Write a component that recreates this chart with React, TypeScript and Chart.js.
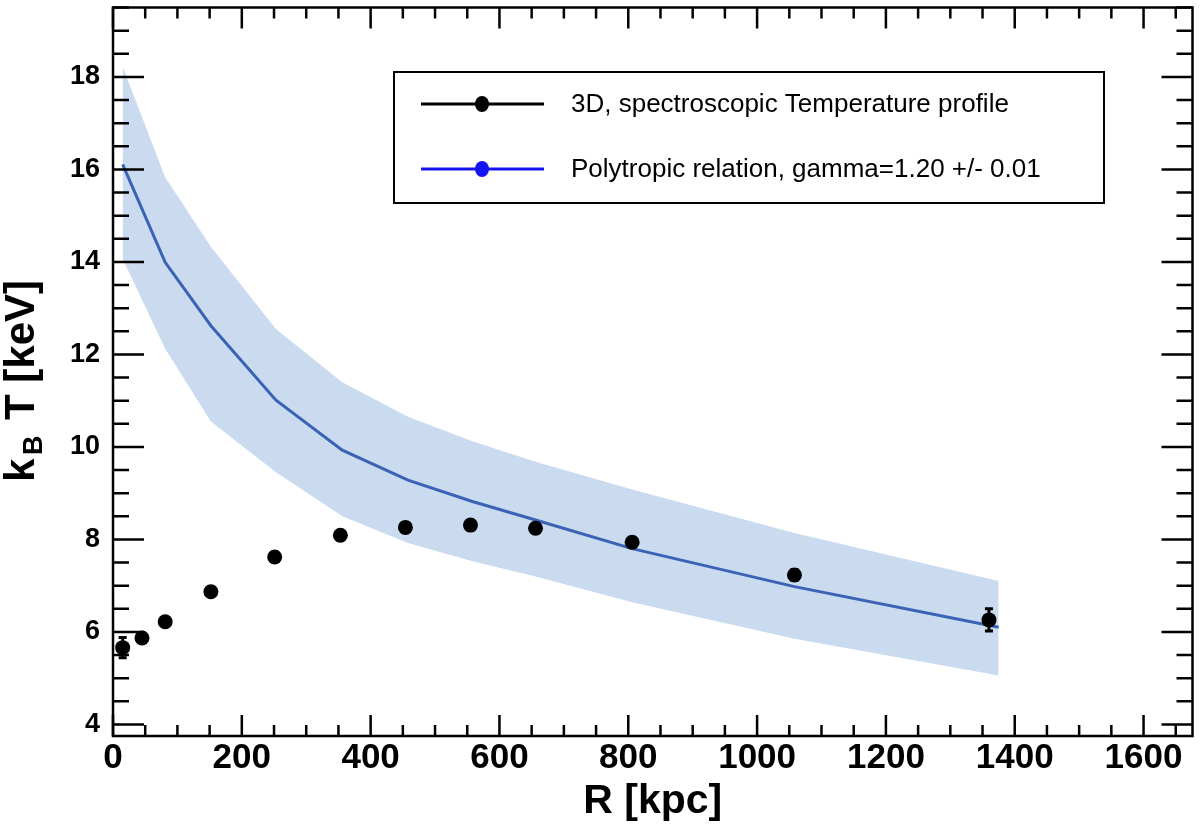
import React, { useEffect, useRef } from "react";
import { Chart, registerables } from "chart.js";

Chart.register(...registerables);

// ---- data ----
const radiusKpc = [15, 45, 81, 152, 251, 353, 454, 555, 656, 806, 1058, 1360];
const tempKeV = [5.66, 5.87, 6.22, 6.87, 7.62, 8.09, 8.26, 8.31, 8.24, 7.94, 7.23, 6.26];
const tempErr = [0.22, 0.1, 0.1, 0.1, 0.1, 0.1, 0.1, 0.1, 0.1, 0.1, 0.12, 0.24];

const modelR = [15, 81, 152, 253, 356, 458, 558, 656, 806, 1058, 1375];
const modelT = [16.11, 13.99, 12.62, 11.01, 9.93, 9.28, 8.82, 8.42, 7.8, 6.98, 6.1];
const bandUpper = [18.22, 15.83, 14.33, 12.55, 11.4, 10.65, 10.12, 9.68, 9.08, 8.14, 7.1];
const bandLower = [14.06, 12.12, 10.55, 9.45, 8.5, 7.92, 7.53, 7.2, 6.64, 5.85, 5.06];

const xTicks = [0, 200, 400, 600, 800, 1000, 1200, 1400, 1600];
const yTicks = [4, 6, 8, 10, 12, 14, 16, 18];

const dataLabel = "3D, spectroscopic Temperature profile";
const modelLabel = "Polytropic relation, gamma=1.20 +/- 0.01";

const FONT = '"Liberation Sans", Arial, Helvetica, sans-serif';

export default function App() {
  const ref = useRef<HTMLCanvasElement>(null);

  useEffect(() => {
    document.body.style.margin = "0";
    const canvas = ref.current!;

    const decor = {
      id: "decor",
      afterDatasetsDraw(chart: any) {
        const ctx = chart.ctx;
        const xs = chart.scales.x;
        const ys = chart.scales.y;
        ctx.save();
        ctx.strokeStyle = "#000";
        ctx.lineWidth = 3;
        radiusKpc.forEach((r, i) => {
          const px = xs.getPixelForValue(r);
          const top = ys.getPixelForValue(tempKeV[i] + tempErr[i]);
          const bot = ys.getPixelForValue(tempKeV[i] - tempErr[i]);
          ctx.beginPath();
          ctx.moveTo(px, top);
          ctx.lineTo(px, bot);
          ctx.moveTo(px - 4, top);
          ctx.lineTo(px + 4, top);
          ctx.moveTo(px - 4, bot);
          ctx.lineTo(px + 4, bot);
          ctx.stroke();
        });
        ctx.restore();
      },
      afterDraw(chart: any) {
        const ctx = chart.ctx;
        const a = chart.chartArea;
        const xs = chart.scales.x;
        const ys = chart.scales.y;
        ctx.save();
        ctx.strokeStyle = "#000";
        ctx.lineWidth = 2.5;
        ctx.strokeRect(a.left, a.top, a.right - a.left, a.bottom - a.top);

        // x ticks (bottom and top), inward
        ctx.beginPath();
        for (let v = 0; v <= xs.max; v += 50) {
          const px = xs.getPixelForValue(v);
          const major = v % 200 === 0;
          const len = major ? 21 : 11;
          ctx.moveTo(px, a.bottom);
          ctx.lineTo(px, a.bottom - len);
          ctx.moveTo(px, a.top);
          ctx.lineTo(px, a.top + len);
        }
        // y ticks (left and right), inward
        for (let v = 4; v <= ys.max; v += 0.5) {
          const py = ys.getPixelForValue(v);
          const major = Math.abs(v % 2) < 1e-9;
          const len = major ? 31 : 16;
          ctx.moveTo(a.left, py);
          ctx.lineTo(a.left + len, py);
          ctx.moveTo(a.right, py);
          ctx.lineTo(a.right - len, py);
        }
        ctx.stroke();

        // legend
        const lx0 = 394, ly0 = 72, lx1 = 1104, ly1 = 203;
        ctx.fillStyle = "#fff";
        ctx.fillRect(lx0, ly0, lx1 - lx0, ly1 - ly0);
        ctx.lineWidth = 2;
        ctx.strokeRect(lx0, ly0, lx1 - lx0, ly1 - ly0);
        const entries = [
          { y: 104, color: "#000", text: dataLabel },
          { y: 169, color: "#1414f0", text: modelLabel },
        ];
        entries.forEach((e) => {
          ctx.strokeStyle = e.color;
          ctx.fillStyle = e.color;
          ctx.lineWidth = 3;
          ctx.beginPath();
          ctx.moveTo(421, e.y);
          ctx.lineTo(544, e.y);
          ctx.stroke();
          ctx.beginPath();
          ctx.ellipse(482, e.y, 7, 8, 0, 0, Math.PI * 2);
          ctx.fill();
          ctx.fillStyle = "#000";
          ctx.font = `26px ${FONT}`;
          ctx.textAlign = "left";
          ctx.textBaseline = "middle";
          ctx.fillText(e.text, 571, e.y + 1);
        });

        // x title
        ctx.fillStyle = "#000";
        ctx.font = `bold 41px ${FONT}`;
        ctx.textAlign = "center";
        ctx.textBaseline = "alphabetic";
        ctx.fillText("R [kpc]", (a.left + a.right) / 2, 813);

        // y title with subscript
        ctx.save();
        ctx.translate(34, 482);
        ctx.rotate(-Math.PI / 2);
        ctx.textAlign = "left";
        ctx.textBaseline = "alphabetic";
        ctx.font = `bold 42px ${FONT}`;
        ctx.fillText("k", 0, 0);
        ctx.font = `bold 27px ${FONT}`;
        ctx.fillText("B", 27, 8);
        ctx.font = `bold 42px ${FONT}`;
        ctx.fillText("T [keV]", 62, 0);
        ctx.restore();

        ctx.restore();
      },
    };

    const chart = new Chart(canvas, {
      type: "scatter",
      data: {
        datasets: [
          {
            label: dataLabel,
            data: radiusKpc.map((r, i) => ({ x: r, y: tempKeV[i] })),
            showLine: false,
            pointRadius: 7.5,
            pointBorderWidth: 0,
            backgroundColor: "#000",
            borderColor: "#000",
            order: 0,
          },
          {
            label: modelLabel,
            data: modelR.map((r, i) => ({ x: r, y: modelT[i] })),
            showLine: true,
            borderColor: "#3a62b5",
            borderWidth: 3,
            pointRadius: 0,
            fill: false,
            order: 1,
          },
          {
            label: "upper",
            data: modelR.map((r, i) => ({ x: r, y: bandUpper[i] })),
            showLine: true,
            borderColor: "rgba(0,0,0,0)",
            borderWidth: 0,
            pointRadius: 0,
            backgroundColor: "#cbdbef",
            fill: "+1",
            order: 2,
          },
          {
            label: "lower",
            data: modelR.map((r, i) => ({ x: r, y: bandLower[i] })),
            showLine: true,
            borderColor: "rgba(0,0,0,0)",
            borderWidth: 0,
            pointRadius: 0,
            fill: false,
            order: 3,
          },
        ],
      },
      options: {
        animation: false,
        responsive: false,
        devicePixelRatio: 1,
        events: [],
        layout: { padding: { left: 0, top: 4, right: 3, bottom: 0 } },
        plugins: {
          legend: { display: false },
          tooltip: { enabled: false },
        },
        scales: {
          x: {
            type: "linear",
            min: 0,
            max: 1676,
            afterBuildTicks: (s: any) => {
              s.ticks = xTicks.map((v) => ({ value: v }));
            },
            afterFit: (s: any) => {
              s.height = 91;
              s.paddingLeft = 0;
              s.paddingRight = 0;
              s.paddingTop = 0;
              s.paddingBottom = 0;
            },
            ticks: {
              font: { family: FONT, size: 35, weight: "bold" },
              color: "#000",
              padding: 1,
              maxRotation: 0,
              autoSkip: false,
              callback: (v: any) => String(v),
            },
            grid: { display: false, drawTicks: false },
            border: { display: false },
          },
          y: {
            type: "linear",
            min: 3.75,
            max: 19.5,
            afterBuildTicks: (s: any) => {
              s.ticks = yTicks.map((v) => ({ value: v }));
            },
            afterFit: (s: any) => {
              s.width = 113;
              s.paddingLeft = 0;
              s.paddingRight = 0;
              s.paddingTop = 0;
              s.paddingBottom = 0;
            },
            ticks: {
              font: { family: FONT, size: 27, weight: "bold" },
              color: "#000",
              padding: 13,
              autoSkip: false,
              callback: (v: any) => String(v),
            },
            grid: { display: false, drawTicks: false },
            border: { display: false },
          },
        },
      },
      plugins: [decor],
    } as any);

    return () => chart.destroy();
  }, []);

  return (
    <div style={{ position: "absolute", left: 0, top: 0, width: 1200, height: 827, background: "#fff" }}>
      <canvas ref={ref} width={1200} height={827} style={{ display: "block" }} />
    </div>
  );
}
